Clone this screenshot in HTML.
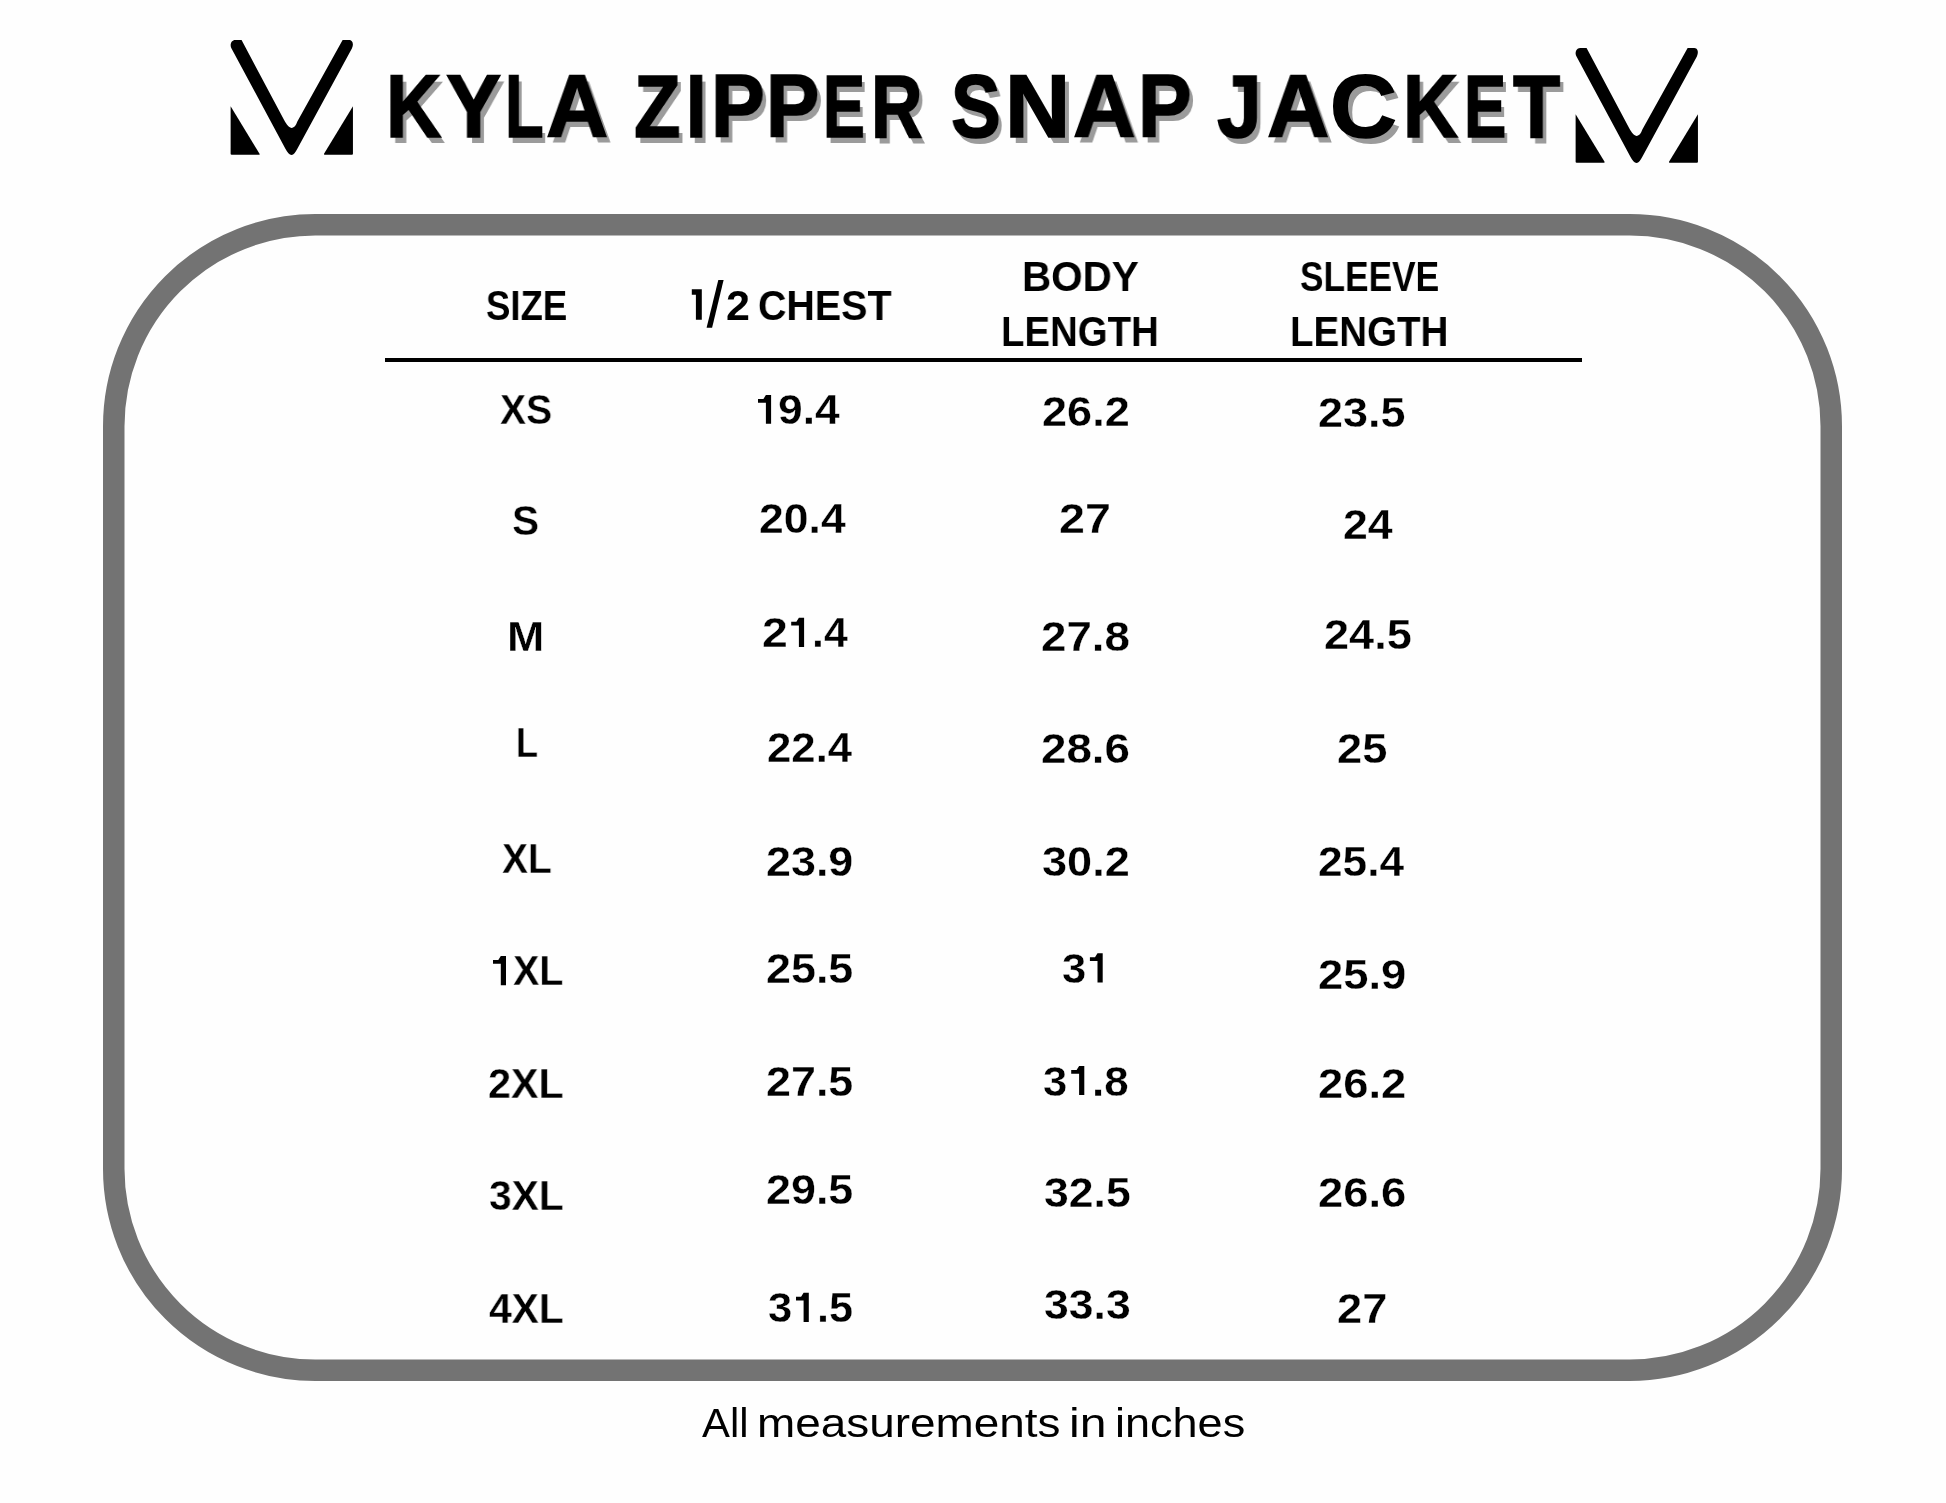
<!DOCTYPE html>
<html><head><meta charset="utf-8"><title>Kyla Zipper Snap Jacket - Size Chart</title>
<style>
html,body{margin:0;padding:0;background:#fefefe;}
body{width:1946px;height:1503px;background:#fefefe;position:relative;overflow:hidden;font-family:"Liberation Sans",sans-serif;color:#000;}
.t{position:absolute;white-space:nowrap;line-height:0;transform-origin:0 0;will-change:transform;}
.d{-webkit-text-stroke:0.3px #fefefe;}
.logo{position:absolute;width:145px;height:135px;}
.rule{position:absolute;left:385px;top:358px;width:1197px;height:4px;background:#000;}
svg.box{position:absolute;left:0;top:0;}
</style></head><body>

<svg class="box" width="1946" height="1503" viewBox="0 0 1946 1503"><rect x="113.75" y="224.75" width="1717.5" height="1145.5" rx="201.5" ry="201.5" fill="none" stroke="#737373" stroke-width="21.5"/></svg>
<svg class="logo" style="left:220px;top:30px" viewBox="0 0 1614 1503"><path d="M170 112 L240 112 L712 1000 C745 1060 770 1090 800 1090 C825 1090 845 1065 861 1020 L1365 112 L1440 112 C1470 112 1495 150 1468 205 L861 1322 C839 1362 820 1392 797 1392 C772 1392 750 1362 728 1322 L128 205 C105 165 125 112 170 112 Z"/>
<path d="M118 850 L440 1378 Q446 1390 432 1390 L130 1390 Q118 1390 118 1378 Z"/>
<path d="M1480 850 L1158 1378 Q1152 1390 1166 1390 L1468 1390 Q1480 1390 1480 1378 Z"/></svg>
<svg class="logo" style="left:1565px;top:38px" viewBox="0 0 1614 1503"><path d="M170 112 L240 112 L712 1000 C745 1060 770 1090 800 1090 C825 1090 845 1065 861 1020 L1365 112 L1440 112 C1470 112 1495 150 1468 205 L861 1322 C839 1362 820 1392 797 1392 C772 1392 750 1362 728 1322 L128 205 C105 165 125 112 170 112 Z"/>
<path d="M118 850 L440 1378 Q446 1390 432 1390 L130 1390 Q118 1390 118 1378 Z"/>
<path d="M1480 850 L1158 1378 Q1152 1390 1166 1390 L1468 1390 Q1480 1390 1480 1378 Z"/></svg>
<div class="rule"></div>
<svg class="box" width="1946" height="1503"><polygon points="718.3,279.9 723.6,279.9 712.1,327.8 706.6,327.8" fill="#000"/><polygon points="691.8,289.2 701.8,289.2 701.8,319.8 695.9,319.8 695.9,294.7 691.8,294.7" fill="#000"/></svg>
<div class="t" style="left:385.79px;top:106.00px;font-weight:bold;font-size:89px;transform:scaleX(0.8617);text-shadow:4.8px 5.5px 0 #9b9b9b;-webkit-text-stroke:1.6px #000;">K</div>
<div class="t" style="left:446.20px;top:106.00px;font-weight:bold;font-size:89px;transform:scaleX(0.9288);text-shadow:4.8px 5.5px 0 #9b9b9b;-webkit-text-stroke:1.6px #000;">Y</div>
<div class="t" style="left:505.05px;top:106.00px;font-weight:bold;font-size:89px;transform:scaleX(0.7104);text-shadow:4.8px 5.5px 0 #9b9b9b;-webkit-text-stroke:1.6px #000;">L</div>
<div class="t" style="left:545.93px;top:106.00px;font-weight:bold;font-size:89px;transform:scaleX(0.9661);text-shadow:4.8px 5.5px 0 #9b9b9b;-webkit-text-stroke:1.6px #000;">A</div>
<div class="t" style="left:633.69px;top:106.00px;font-weight:bold;font-size:89px;transform:scaleX(0.8549);text-shadow:4.8px 5.5px 0 #9b9b9b;-webkit-text-stroke:1.6px #000;">Z</div>
<div class="t" style="left:685.97px;top:106.00px;font-weight:bold;font-size:89px;transform:scaleX(0.8267);text-shadow:4.8px 5.5px 0 #9b9b9b;-webkit-text-stroke:1.6px #000;">I</div>
<div class="t" style="left:710.78px;top:106.00px;font-weight:bold;font-size:89px;transform:scaleX(0.9038);text-shadow:4.8px 5.5px 0 #9b9b9b;-webkit-text-stroke:1.6px #000;">P</div>
<div class="t" style="left:766.11px;top:106.00px;font-weight:bold;font-size:89px;transform:scaleX(0.8981);text-shadow:4.8px 5.5px 0 #9b9b9b;-webkit-text-stroke:1.6px #000;">P</div>
<div class="t" style="left:822.57px;top:106.00px;font-weight:bold;font-size:89px;transform:scaleX(0.7058);text-shadow:4.8px 5.5px 0 #9b9b9b;-webkit-text-stroke:1.6px #000;">E</div>
<div class="t" style="left:870.79px;top:106.00px;font-weight:bold;font-size:89px;transform:scaleX(0.8017);text-shadow:4.8px 5.5px 0 #9b9b9b;-webkit-text-stroke:1.6px #000;">R</div>
<div class="t" style="left:951.33px;top:106.00px;font-weight:bold;font-size:89px;transform:scaleX(0.8364);text-shadow:4.8px 5.5px 0 #9b9b9b;-webkit-text-stroke:1.6px #000;">S</div>
<div class="t" style="left:1004.83px;top:106.00px;font-weight:bold;font-size:89px;transform:scaleX(1.0148);text-shadow:4.8px 5.5px 0 #9b9b9b;-webkit-text-stroke:1.6px #000;">N</div>
<div class="t" style="left:1072.53px;top:106.00px;font-weight:bold;font-size:89px;transform:scaleX(0.9742);text-shadow:4.8px 5.5px 0 #9b9b9b;-webkit-text-stroke:1.6px #000;">A</div>
<div class="t" style="left:1137.69px;top:106.00px;font-weight:bold;font-size:89px;transform:scaleX(0.9019);text-shadow:4.8px 5.5px 0 #9b9b9b;-webkit-text-stroke:1.6px #000;">P</div>
<div class="t" style="left:1216.50px;top:106.00px;font-weight:bold;font-size:89px;transform:scaleX(0.9023);text-shadow:4.8px 5.5px 0 #9b9b9b;-webkit-text-stroke:1.6px #000;">J</div>
<div class="t" style="left:1267.33px;top:106.00px;font-weight:bold;font-size:89px;transform:scaleX(0.9694);text-shadow:4.8px 5.5px 0 #9b9b9b;-webkit-text-stroke:1.6px #000;">A</div>
<div class="t" style="left:1330.48px;top:106.00px;font-weight:bold;font-size:89px;transform:scaleX(1.0383);text-shadow:4.8px 5.5px 0 #9b9b9b;-webkit-text-stroke:1.6px #000;">C</div>
<div class="t" style="left:1402.72px;top:106.00px;font-weight:bold;font-size:89px;transform:scaleX(0.8550);text-shadow:4.8px 5.5px 0 #9b9b9b;-webkit-text-stroke:1.6px #000;">K</div>
<div class="t" style="left:1463.54px;top:106.00px;font-weight:bold;font-size:89px;transform:scaleX(0.7115);text-shadow:4.8px 5.5px 0 #9b9b9b;-webkit-text-stroke:1.6px #000;">E</div>
<div class="t" style="left:1512.50px;top:106.00px;font-weight:bold;font-size:89px;transform:scaleX(0.8667);text-shadow:4.8px 5.5px 0 #9b9b9b;-webkit-text-stroke:1.6px #000;">T</div>
<div class="t" style="left:485.75px;top:305.20px;font-weight:bold;font-size:43px;transform:scaleX(0.8484);">SIZE</div>
<div class="t" style="left:725.90px;top:304.80px;font-weight:bold;font-size:43px;transform:scaleX(1.0000);">2</div>
<div class="t" style="left:757.67px;top:305.20px;font-weight:bold;font-size:43px;transform:scaleX(0.9161);">CHEST</div>
<div class="t" style="left:1021.68px;top:276.10px;font-weight:bold;font-size:43px;transform:scaleX(0.9400);">BODY</div>
<div class="t" style="left:1001.32px;top:331.10px;font-weight:bold;font-size:43px;transform:scaleX(0.8924);">LENGTH</div>
<div class="t" style="left:1299.58px;top:276.10px;font-weight:bold;font-size:43px;transform:scaleX(0.8198);">SLEEVE</div>
<div class="t" style="left:1289.91px;top:331.10px;font-weight:bold;font-size:43px;transform:scaleX(0.8953);">LENGTH</div>
<div class="t d" style="left:500.17px;top:409.90px;font-weight:bold;font-size:42px;transform:scaleX(0.9302);">XS</div>
<div class="t d" style="left:777.99px;top:409.80px;font-weight:bold;font-size:42px;transform:scaleX(1.0554);">9.4</div>
<div class="t d" style="left:1042.25px;top:411.80px;font-weight:bold;font-size:42px;transform:scaleX(1.0731);">26.2</div>
<div class="t d" style="left:1318.36px;top:412.50px;font-weight:bold;font-size:42px;transform:scaleX(1.0705);">23.5</div>
<div class="t d" style="left:512.27px;top:521.20px;font-weight:bold;font-size:42px;transform:scaleX(0.9667);">S</div>
<div class="t d" style="left:758.78px;top:519.20px;font-weight:bold;font-size:42px;transform:scaleX(1.0600);">20.4</div>
<div class="t d" style="left:1059.28px;top:519.20px;font-weight:bold;font-size:42px;transform:scaleX(1.1116);">27</div>
<div class="t d" style="left:1343.07px;top:525.30px;font-weight:bold;font-size:42px;transform:scaleX(1.0636);">24</div>
<div class="t d" style="left:507.40px;top:637.40px;font-weight:bold;font-size:42px;transform:scaleX(1.0655);">M</div>
<div class="t d" style="left:761.79px;top:632.90px;font-weight:bold;font-size:42px;transform:scaleX(1.1050);">2</div>
<div class="t d" style="left:812.34px;top:632.90px;font-weight:bold;font-size:42px;transform:scaleX(1.0188);">.4</div>
<div class="t d" style="left:1041.32px;top:637.40px;font-weight:bold;font-size:42px;transform:scaleX(1.0885);">27.8</div>
<div class="t d" style="left:1324.05px;top:635.30px;font-weight:bold;font-size:42px;transform:scaleX(1.0744);">24.5</div>
<div class="t d" style="left:515.73px;top:742.70px;font-weight:bold;font-size:42px;transform:scaleX(0.8571);">L</div>
<div class="t d" style="left:766.52px;top:747.90px;font-weight:bold;font-size:42px;transform:scaleX(1.0412);">22.4</div>
<div class="t d" style="left:1041.32px;top:749.40px;font-weight:bold;font-size:42px;transform:scaleX(1.0885);">28.6</div>
<div class="t d" style="left:1336.85px;top:749.40px;font-weight:bold;font-size:42px;transform:scaleX(1.0767);">25</div>
<div class="t d" style="left:501.97px;top:858.90px;font-weight:bold;font-size:42px;transform:scaleX(0.9275);">XL</div>
<div class="t d" style="left:766.46px;top:861.50px;font-weight:bold;font-size:42px;transform:scaleX(1.0679);">23.9</div>
<div class="t d" style="left:1042.43px;top:861.50px;font-weight:bold;font-size:42px;transform:scaleX(1.0747);">30.2</div>
<div class="t d" style="left:1317.89px;top:861.50px;font-weight:bold;font-size:42px;transform:scaleX(1.0537);">25.4</div>
<div class="t d" style="left:513.16px;top:971.20px;font-weight:bold;font-size:42px;transform:scaleX(0.9392);">XL</div>
<div class="t d" style="left:766.46px;top:969.40px;font-weight:bold;font-size:42px;transform:scaleX(1.0679);">25.5</div>
<div class="t d" style="left:1061.96px;top:968.80px;font-weight:bold;font-size:42px;transform:scaleX(1.0381);">3</div>
<div class="t d" style="left:1317.84px;top:974.60px;font-weight:bold;font-size:42px;transform:scaleX(1.0808);">25.9</div>
<div class="t d" style="left:488.13px;top:1083.60px;font-weight:bold;font-size:42px;transform:scaleX(0.9849);">2XL</div>
<div class="t d" style="left:766.46px;top:1081.50px;font-weight:bold;font-size:42px;transform:scaleX(1.0679);">27.5</div>
<div class="t d" style="left:1043.46px;top:1081.80px;font-weight:bold;font-size:42px;transform:scaleX(1.0381);">3</div>
<div class="t d" style="left:1092.46px;top:1081.80px;font-weight:bold;font-size:42px;transform:scaleX(1.0452);">.8</div>
<div class="t d" style="left:1317.84px;top:1083.60px;font-weight:bold;font-size:42px;transform:scaleX(1.0808);">26.2</div>
<div class="t d" style="left:489.13px;top:1195.60px;font-weight:bold;font-size:42px;transform:scaleX(0.9716);">3XL</div>
<div class="t d" style="left:766.46px;top:1190.40px;font-weight:bold;font-size:42px;transform:scaleX(1.0679);">29.5</div>
<div class="t d" style="left:1043.54px;top:1193.00px;font-weight:bold;font-size:42px;transform:scaleX(1.0608);">32.5</div>
<div class="t d" style="left:1317.84px;top:1193.00px;font-weight:bold;font-size:42px;transform:scaleX(1.0808);">26.6</div>
<div class="t d" style="left:489.13px;top:1308.70px;font-weight:bold;font-size:42px;transform:scaleX(0.9716);">4XL</div>
<div class="t d" style="left:767.96px;top:1308.30px;font-weight:bold;font-size:42px;transform:scaleX(1.0381);">3</div>
<div class="t d" style="left:817.01px;top:1308.30px;font-weight:bold;font-size:42px;transform:scaleX(1.0290);">.5</div>
<div class="t d" style="left:1043.54px;top:1305.10px;font-weight:bold;font-size:42px;transform:scaleX(1.0608);">33.3</div>
<div class="t d" style="left:1336.85px;top:1308.70px;font-weight:bold;font-size:42px;transform:scaleX(1.0767);">27</div>
<div class="t" style="left:702.20px;top:1422.90px;font-weight:normal;font-size:41px;transform:scaleX(1.0209);">All</div>
<div class="t" style="left:757.24px;top:1422.90px;font-weight:normal;font-size:41px;transform:scaleX(1.1191);">measurements</div>
<div class="t" style="left:1069.38px;top:1422.90px;font-weight:normal;font-size:41px;transform:scaleX(1.1731);">in</div>
<div class="t" style="left:1114.71px;top:1422.90px;font-weight:normal;font-size:41px;transform:scaleX(1.0982);">inches</div>
<svg class="box" width="1946" height="1503"><polygon points="765.9,395.0 771.1,395.0 771.1,423.8 765.9,423.8 765.9,402.7 758.0,402.7 758.0,399.0 763.4,399.0"/><polygon points="798.9,617.7 804.1,617.7 804.1,646.9 798.9,646.9 798.9,625.4 791.2,625.4 791.2,621.7 796.4,621.7"/><polygon points="500.8,956.1 506.0,956.1 506.0,985.2 500.8,985.2 500.8,963.8 493.0,963.8 493.0,960.1 498.3,960.1"/><polygon points="1097.5,953.2 1102.7,953.2 1102.7,982.5 1097.5,982.5 1097.5,960.9 1089.9,960.9 1089.9,957.2 1095.0,957.2"/><polygon points="1079.1,1066.0 1084.3,1066.0 1084.3,1095.0 1079.1,1095.0 1079.1,1073.7 1071.2,1073.7 1071.2,1070.0 1076.6,1070.0"/><polygon points="803.6,1292.7 808.8,1292.7 808.8,1321.9 803.6,1321.9 803.6,1300.4 796.0,1300.4 796.0,1296.7 801.1,1296.7"/></svg>
</body></html>
